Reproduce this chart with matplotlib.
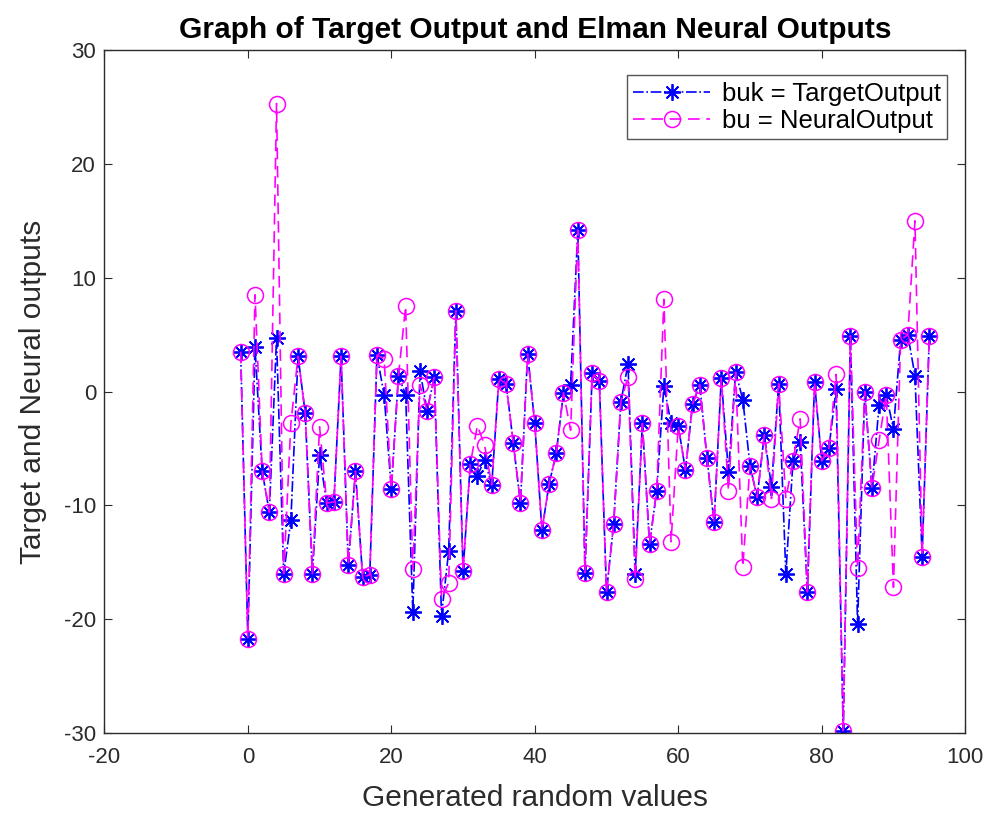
import numpy as np
import matplotlib
matplotlib.use("Agg")
import matplotlib.pyplot as plt

# sample index of each generated value
steps = np.arange(-1, 96)

# target output (buk)
buk = [3.5, -21.7, 3.9, -7.0, -10.6, 4.7, -16.0, -11.3, 3.1, -1.9,
       -16.0, -5.6, -9.8, -9.7, 3.1, -15.2, -7.0, -16.3, -16.1, 3.2,
       -0.3, -8.6, 1.4, -0.3, -19.4, 1.8, -1.7, 1.3, -19.7, -14.0,
       7.1, -15.8, -6.4, -7.4, -6.0, -8.2, 1.1, 0.7, -4.5, -9.8,
       3.3, -2.8, -12.2, -8.1, -5.4, -0.1, 0.6, 14.2, -15.9, 1.6,
       0.9, -17.6, -11.6, -0.9, 2.4, -16.0, -2.8, -13.4, -8.7, 0.5,
       -2.8, -3.0, -6.9, -1.1, 0.6, -5.8, -11.5, 1.2, -7.1, 1.7,
       -0.7, -6.5, -9.3, -3.8, -8.4, 0.7, -16.0, -6.1, -4.4, -17.6,
       0.8, -6.1, -5.0, 0.2, -29.8, 4.9, -20.4, 0.0, -8.5, -1.2,
       -0.3, -3.3, 4.5, 5.0, 1.4, -14.5, 4.9]

# Elman network output (bu)
bu = [3.5, -21.7, 8.5, -7.0, -10.6, 25.3, -16.0, -2.8, 3.1, -1.9,
      -16.0, -3.1, -9.8, -9.7, 3.1, -15.2, -7.0, -16.3, -16.1, 3.2,
      2.9, -8.6, 1.4, 7.5, -15.6, 0.6, -1.7, 1.3, -18.2, -16.8,
      7.1, -15.8, -6.4, -3.0, -4.7, -8.2, 1.1, 0.7, -4.5, -9.8,
      3.3, -2.8, -12.2, -8.1, -5.4, -0.1, -3.4, 14.2, -15.9, 1.6,
      0.9, -17.6, -11.6, -0.9, 1.3, -16.5, -2.8, -13.4, -8.7, 8.1,
      -13.2, -3.0, -6.9, -1.1, 0.6, -5.8, -11.5, 1.2, -8.7, 1.7,
      -15.4, -6.5, -9.3, -3.8, -9.4, 0.7, -9.4, -6.1, -2.4, -17.6,
      0.8, -6.1, -5.0, 1.5, -29.8, 4.9, -15.5, 0.0, -8.5, -4.3,
      -0.3, -17.2, 4.5, 5.0, 15.0, -14.5, 4.9]

plt.rcParams['font.family'] = ['Liberation Sans', 'DejaVu Sans']
plt.rcParams['axes.unicode_minus'] = False
axis_gray = '#2b2b2b'

fig = plt.figure(figsize=(9.94, 8.14), dpi=100)
ax = fig.add_axes([0.105, 0.0995, 0.866, 0.839])

# asterisk marker built from a plus and a cross, like '*' in MATLAB
asterisk = (8, 2, 0)

ax.plot(steps, buk, color='blue', linestyle='-.', linewidth=1.2,
        marker=asterisk, markersize=12, markeredgewidth=1.3,
        label='buk = TargetOutput')
ax.plot(steps, bu, color='magenta', linestyle='--', linewidth=1.2,
        dashes=(7, 4), marker='o', markersize=11.5, markerfacecolor='none',
        markeredgewidth=1.1, label='bu = NeuralOutput')

ax.set_xlim(-20, 100)
ax.set_ylim(-30, 30)
ax.set_xticks(np.arange(-20, 101, 20))
ax.set_yticks(np.arange(-30, 31, 10))

ax.tick_params(direction='in', top=True, right=True, length=6,
               width=0.8, colors=axis_gray, labelsize=16)
ax.tick_params(axis='x', pad=10)
ax.tick_params(axis='y', pad=6)
for spine in ax.spines.values():
    spine.set_color(axis_gray)
    spine.set_linewidth(1.0)

ax.set_title('Graph of Target Output and Elman Neural Outputs',
             fontsize=21.5, fontweight='bold', color='black', pad=9)
ax.set_xlabel('Generated random values', fontsize=21.5, color=axis_gray)
ax.set_ylabel('Target and Neural outputs', fontsize=21.5, color=axis_gray)
ax.xaxis.set_label_coords(0.5, -0.075)
ax.yaxis.set_label_coords(-0.067, 0.5)

leg = ax.legend(loc='upper right', bbox_to_anchor=(0.979, 0.963),
                borderaxespad=0, fontsize=18.5, frameon=True,
                fancybox=False, edgecolor=axis_gray, handlelength=3.0,
                handletextpad=0.45, borderpad=0.25, labelspacing=0.12)
leg.get_frame().set_linewidth(1.0)

fig.savefig('out.png', dpi=100)
